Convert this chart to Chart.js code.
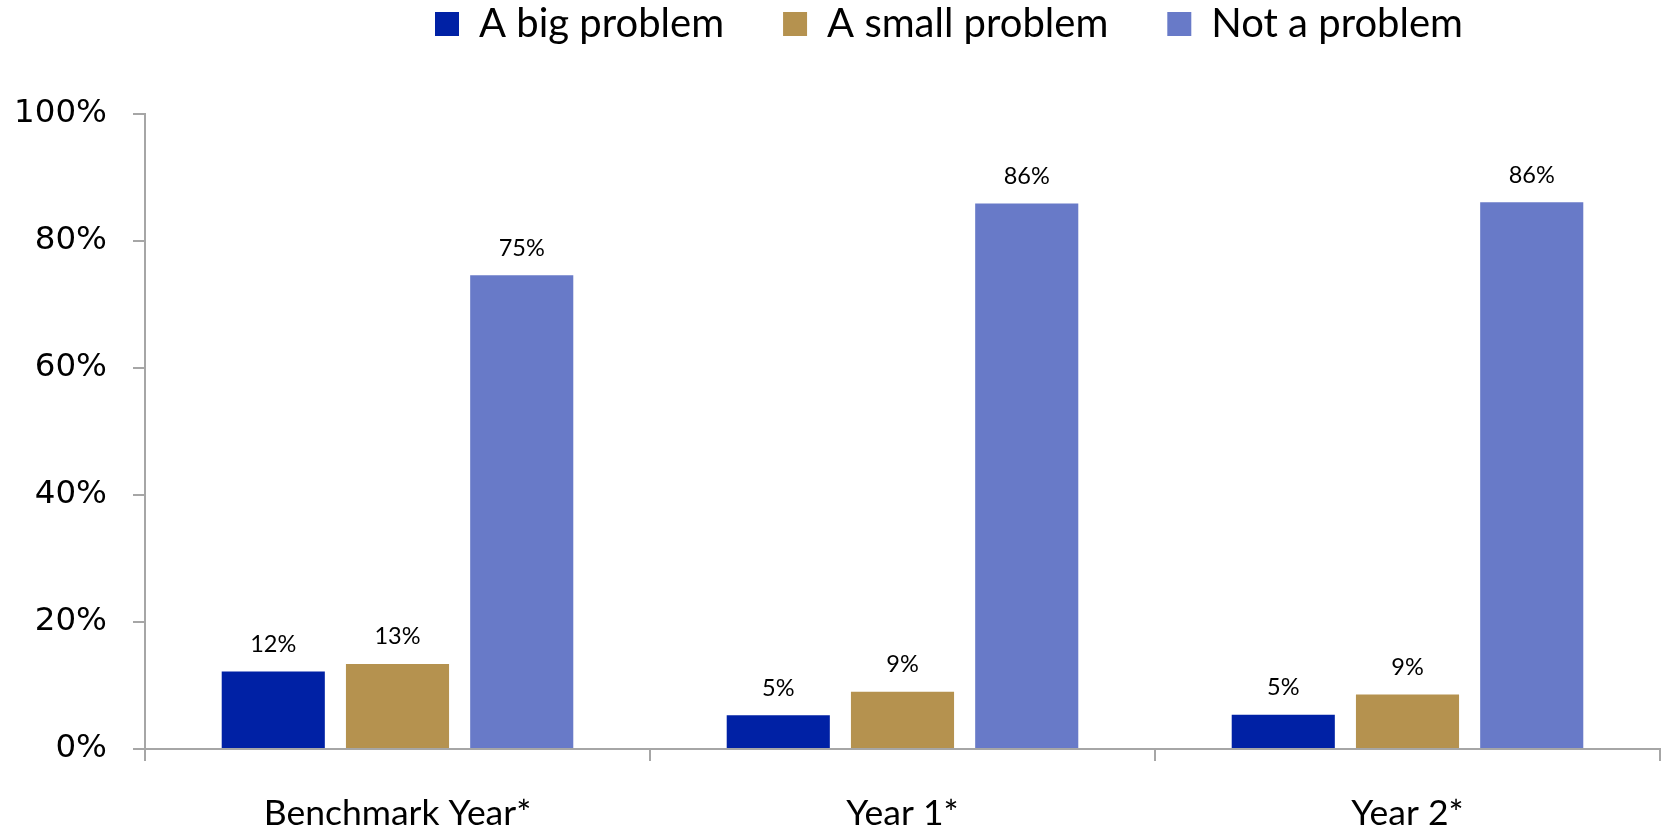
<!DOCTYPE html>
<html>
<head>
<meta charset="utf-8">
<script src="https://cdn.jsdelivr.net/npm/chart.js@4.4.1/dist/chart.umd.min.js"></script>
<style>
  html, body { margin: 0; padding: 0; background: #fff; }
  #wrap { width: 1665px; height: 832px; }
</style>
</head>
<body>
<div id="wrap"><canvas id="mainChart" width="1665" height="832"></canvas></div>
<script>
// ========== 데이터 ==========
const categories = ['Benchmark Year*', 'Year 1*', 'Year 2*'];
const seriesNames = ['A big problem', 'A small problem', 'Not a problem'];

const bigProblem = [12.2, 5.3, 5.4];
const smallProblem = [13.4, 9.0, 8.6];
const notProblem = [74.6, 85.9, 86.1];

// 막대 위에 표시되는 값 (그림에 적힌 그대로)
const bigProblemText = ['12%', '5%', '5%'];
const smallProblemText = ['13%', '9%', '9%'];
const notProblemText = ['75%', '86%', '86%'];

const yTicks = [0, 20, 40, 60, 80, 100];

const colors = ['#0021a5', '#b5924f', '#687ac8'];
const axisColor = '#a6a6a6';

// 막대 위 값 표시 플러그인
const barValueLabels = {
    id: 'barValueLabels',
    afterDatasetsDraw(chart) {
        const ctx = chart.ctx;
        const texts = [bigProblemText, smallProblemText, notProblemText];
        ctx.save();
        ctx.font = '23.5px Lato';
        ctx.fillStyle = '#000';
        ctx.textAlign = 'center';
        ctx.textBaseline = 'middle';
        chart.data.datasets.forEach((ds, i) => {
            const meta = chart.getDatasetMeta(i);
            meta.data.forEach((bar, j) => {
                ctx.fillText(texts[i][j], bar.x, bar.y - 27);
            });
        });
        ctx.restore();
    }
};

// 범례 위치 조정 (원본은 오른쪽으로 치우쳐 있음)
const legendShift = {
    id: 'legendShift',
    afterLayout(chart) {
        const lg = chart.legend;
        if (!lg) return;
        const w = lg.right - lg.left;
        lg.left = 376;
        lg.right = lg.left + w;
        lg.top = -55;
    }
};

const ctx = document.getElementById('mainChart');
new Chart(ctx, {
    type: 'bar',
    data: {
        labels: categories,
        datasets: [
            { label: seriesNames[0], data: bigProblem, backgroundColor: colors[0] },
            { label: seriesNames[1], data: smallProblem, backgroundColor: colors[1] },
            { label: seriesNames[2], data: notProblem, backgroundColor: colors[2] }
        ]
    },
    options: {
        responsive: false,
        animation: false,
        devicePixelRatio: 1,
        categoryPercentage: 0.738,
        barPercentage: 0.83,
        layout: { padding: { left: 12, right: 5, top: 5, bottom: 0 } },
        plugins: {
            tooltip: { enabled: false },
            legend: {
                position: 'top',
                align: 'start',
                labels: {
                    font: { family: 'Lato', size: 40 },
                    color: '#000',
                    boxWidth: 24,
                    boxHeight: 24,
                    padding: 59
                }
            }
        },
        scales: {
            x: {
                grid: {
                    drawOnChartArea: false,
                    color: axisColor,
                    lineWidth: 2,
                    tickLength: 12,
                    offset: true
                },
                border: { color: axisColor, width: 2 },
                ticks: {
                    font: { family: 'Lato', size: 35.5 },
                    color: '#000',
                    padding: 31
                },
                afterFit(scale) { scale.height = 83; }
            },
            y: {
                min: 0,
                max: 100,
                afterBuildTicks(scale) {
                    scale.ticks = yTicks.map(v => ({ value: v }));
                },
                grid: {
                    drawOnChartArea: false,
                    color: axisColor,
                    lineWidth: 2,
                    tickLength: 12
                },
                border: { color: axisColor, width: 2 },
                ticks: {
                    font: { family: 'DejaVu Sans', size: 32.5 },
                    color: '#000',
                    padding: 26,
                    callback: v => v + '%'
                },
                afterFit(scale) { scale.width = 133; }
            }
        }
    },
    plugins: [barValueLabels, legendShift]
});
</script>
</body>
</html>
